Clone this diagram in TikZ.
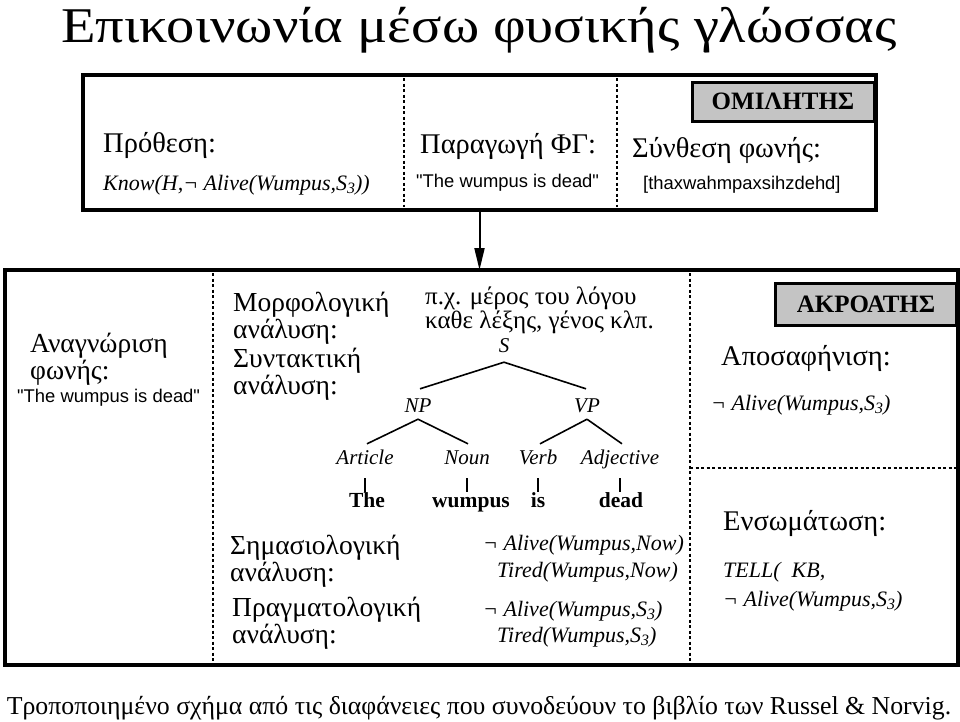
\documentclass[tikz,border=0pt]{standalone}
\usepackage{fontspec}
\setmainfont{Liberation Serif}
\setsansfont{Liberation Sans}
\newfontfamily\plainsans{Liberation Sans}
\newfontfamily\wideserif[FakeStretch=1.13]{Liberation Serif}
\usetikzlibrary{arrows.meta}
\definecolor{tagGray}{RGB}{196,196,196}
\newcommand{\lowsub}[1]{\raisebox{-0.35ex}{\scalebox{0.72}{#1}}}
\begin{document}
\begin{tikzpicture}[x=1pt,y=-1pt,
  framebox/.style={draw, line width=3.6pt, inner sep=0pt, outer sep=0pt},
  divider/.style={line width=1.5pt, dash pattern=on 3pt off 2.5pt},
  tag/.style={draw, line width=3pt, fill=tagGray, inner sep=0pt, outer sep=0pt,
     font=\bfseries\fontsize{25}{25}\selectfont},
  lbl/.style={anchor=base west, inner sep=0pt, align=left, font=\fontsize{28.5}{25}\selectfont},
  lblb/.style={anchor=base west, inner sep=0pt, align=left, font=\fontsize{27.5}{25}\selectfont},
  formula/.style={anchor=base west, inner sep=0pt, font=\itshape\fontsize{22}{22}\selectfont},
  quoted/.style={anchor=base west, inner sep=0pt, font=\plainsans\fontsize{18.4}{18.4}\selectfont},
  branch/.style={line width=1.6pt},
  cat/.style={anchor=base, inner sep=0pt, text height=15pt, text depth=0pt,
     font=\itshape\fontsize{21}{21}\selectfont},
  word/.style={anchor=base, inner sep=0pt, text height=14pt, text depth=0pt,
     font=\bfseries\fontsize{21.5}{21.5}\selectfont}]
\useasboundingbox (0,0) rectangle (960,721);

% title and caption
\node[anchor=base, inner sep=0pt] (title) at (479,42)
  {\wideserif\fontsize{50}{50}\selectfont Επικοινωνία μέσω φυσικής γλώσσας};
\node[anchor=base, inner sep=0pt] (caption) at (479,714)
  {\fontsize{25.8}{26}\selectfont Τροποποιημένο σχήμα από τις διαφάνειες που συνοδεύουν το βιβλίο των Russel \& Norvig.};

% speaker box
\node[framebox, minimum width=793pt, minimum height=135pt] (speaker) at (479.5,142.5) {};
\draw[divider] (404,78) -- (404,207);
\draw[divider] (617,78) -- (617,207);
\node[tag, minimum width=182pt, minimum height=39pt] (omilitis) at (783,101.5) {ΟΜΙΛΗΤΗΣ};

\node[lbl] (prothesi) at (103,152) {Πρόθεση:};
\node[formula] (know) at (103,190) {Know(H,¬ Alive(Wumpus,S\lowsub{3}))};
\node[lbl] (paragogi) at (420,153) {Παραγωγή ΦΓ:};
\node[quoted] (q1) at (416,187) {"The wumpus is dead"};
\node[lbl] (synthesi) at (632,157) {Σύνθεση φωνής:};
\node[quoted] (phon) at (643,189) {[thaxwahmpaxsihzdehd]};

% listener box
\node[framebox, minimum width=953pt, minimum height=395pt] (listener) at (481.5,467.5) {};
\draw[-{Triangle[length=22pt,width=10pt]}, line width=2pt] (speaker.south) -- (speaker.south |- listener.north);
\draw[divider] (213,273) -- (213,663);
\draw[divider] (690,273) -- (690,663);
\draw[divider] (690,468) -- (956,468);
\node[tag, minimum width=181pt, minimum height=42pt] (akroatis) at (866,304.5) {ΑΚΡΟΑΤΗΣ};

\node[lblb] (anagnorisi) at (30,379) {Αναγνώριση\\φωνής:};
\node[quoted] (q2) at (17,402) {"The wumpus is dead"};

\node[lblb] (morfo) at (233,338) {Μορφολογική\\ανάλυση:};
\node[lblb] (syntakt) at (233,394) {Συντακτική\\ανάλυση:};
\node[anchor=base west, inner sep=0pt, align=left, font=\fontsize{25}{19}\selectfont] (pxm) at (425,328)
  {π.χ. μέρος του λόγου\\καθε λέξης, γένος κλπ.};

% parse tree
\node[cat] (S) at (504,352) {S};
\node[cat] (NP) at (418,412) {NP};
\node[cat] (VP) at (587,412) {VP};
\node[cat] (art) at (365,464) {Article};
\node[cat] (noun) at (467,464) {Noun};
\node[cat] (verb) at (538,464) {Verb};
\node[cat] (adj) at (620,464) {Adjective};
\node[word] (the) at (367,507) {The};
\node[word] (wumpus) at (471,507) {wumpus};
\node[word] (is) at (538,507) {is};
\node[word] (dead) at (621,507) {dead};
\draw[branch] ([yshift=-10pt]S.south) -- ([xshift=2pt,yshift=8pt]NP.north);
\draw[branch] ([yshift=-10pt]S.south) -- ([xshift=-1pt,yshift=8pt]VP.north);
\draw[branch] ([yshift=-7pt]NP.south) -- ([xshift=2pt,yshift=5pt]art.north);
\draw[branch] ([yshift=-7pt]NP.south) -- ([xshift=1pt,yshift=5pt]noun.north);
\draw[branch] ([yshift=-7pt]VP.south) -- ([xshift=2pt,yshift=5pt]verb.north);
\draw[branch] ([yshift=-7pt]VP.south) -- ([xshift=2pt,yshift=5pt]adj.north);
\draw[branch] ([yshift=-14pt]art.south) -- ([yshift=1pt]the.north -| art.south);
\draw[branch] ([yshift=-14pt]noun.south) -- ([yshift=1pt]wumpus.north -| noun.south);
\draw[branch] ([yshift=-14pt]verb.south) -- ([yshift=1pt]is.north -| verb.south);
\draw[branch] ([yshift=-14pt]adj.south) -- ([yshift=1pt]dead.north -| adj.south);

\node[lblb] (simasio) at (230,581) {Σημασιολογική\\ανάλυση:};
\node[lblb] (pragmato) at (232,643) {Πραγματολογική\\ανάλυση:};
\node[formula] (f1) at (483,550) {¬ Alive(Wumpus,Now)};
\node[formula] (f2) at (497,577) {Tired(Wumpus,Now)};
\node[formula] (f3) at (483,616) {¬ Alive(Wumpus,S\lowsub{3})};
\node[formula] (f4) at (497,642) {Tired(Wumpus,S\lowsub{3})};

\node[lbl] (aposaf) at (721,365) {Αποσαφήνιση:};
\node[formula] (f5) at (711,410) {¬ Alive(Wumpus,S\lowsub{3})};
\node[lbl] (ensom) at (723,530) {Ενσωμάτωση:};
\node[formula] (f6) at (723,577) {TELL(~~KB,};
\node[formula] (f7) at (723,606) {¬ Alive(Wumpus,S\lowsub{3})};
\end{tikzpicture}
\end{document}
